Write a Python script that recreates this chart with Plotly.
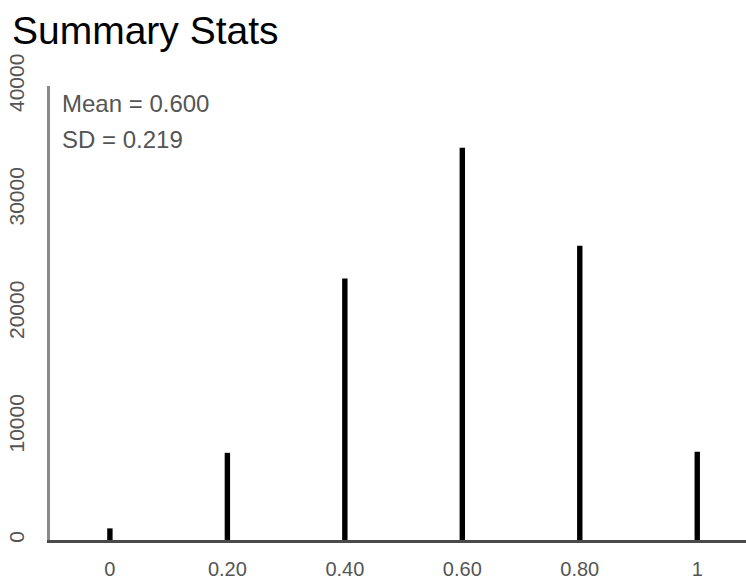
import plotly.graph_objects as go

# Data
x_vals = [0.0, 0.2, 0.4, 0.6, 0.8, 1.0]
counts = [1024, 7680, 23040, 34560, 25920, 7776]
x_tick_vals = [0, 0.2, 0.4, 0.6, 0.8, 1.0]
x_tick_text = ["0", "0.20", "0.40", "0.60", "0.80", "1"]
y_tick_vals = [0, 10000, 20000, 30000, 40000]
y_tick_text = ["0", "10000", "20000", "30000", "40000"]
stats_lines = ["Mean = 0.600", "SD = 0.219"]

W, H = 746, 581
L, R, T, B = 50, 0, 86, 41
pw, ph = W - L - R, H - T - B

def px_x(p):
    return (p - L) / pw

def px_y(p):
    return (H - B - p) / ph

fig = go.Figure()
fig.add_trace(go.Bar(
    x=x_vals, y=counts, width=0.0092,
    marker=dict(color="#000000", line=dict(width=0)),
    hoverinfo="x+y",
))

font = "Liberation Sans, Arial, sans-serif"

fig.update_layout(
    width=W, height=H,
    margin=dict(l=L, r=R, t=T, b=B, pad=0),
    paper_bgcolor="white", plot_bgcolor="white",
    showlegend=False,
    title=dict(text="Summary Stats", xref="container", yref="container",
               x=12 / W, xanchor="left", y=1 - 30 / H, yanchor="middle",
               font=dict(family=font, size=39, color="#000000")),
    xaxis=dict(range=[-0.102, 1.083], tickvals=x_tick_vals, ticktext=x_tick_text,
               showgrid=False, zeroline=False, showline=True, linecolor="#4a4a4a",
               linewidth=3, ticks="", automargin=False, ticklabelstandoff=9,
               tickfont=dict(family=font, size=20, color="#555555")),
    yaxis=dict(range=[0, 40000], tickvals=y_tick_vals, ticktext=y_tick_text,
               tickangle=-90, showgrid=False, zeroline=False, showline=True,
               linecolor="#8a8a8a", linewidth=3, ticks="", automargin=False,
               ticklabelstandoff=15,
               tickfont=dict(family=font, size=21, color="#555555")),
)

for txt, ypix in zip(stats_lines, [104, 139]):
    fig.add_annotation(text=txt, xref="paper", yref="paper",
                       x=px_x(60), y=px_y(ypix), xanchor="left", yanchor="middle",
                       showarrow=False,
                       font=dict(family=font, size=24, color="#555555"))

fig.write_html("out.html",
               config={"displayModeBar": False},
               post_script="document.body.style.margin='0';document.body.style.overflow='hidden';")
